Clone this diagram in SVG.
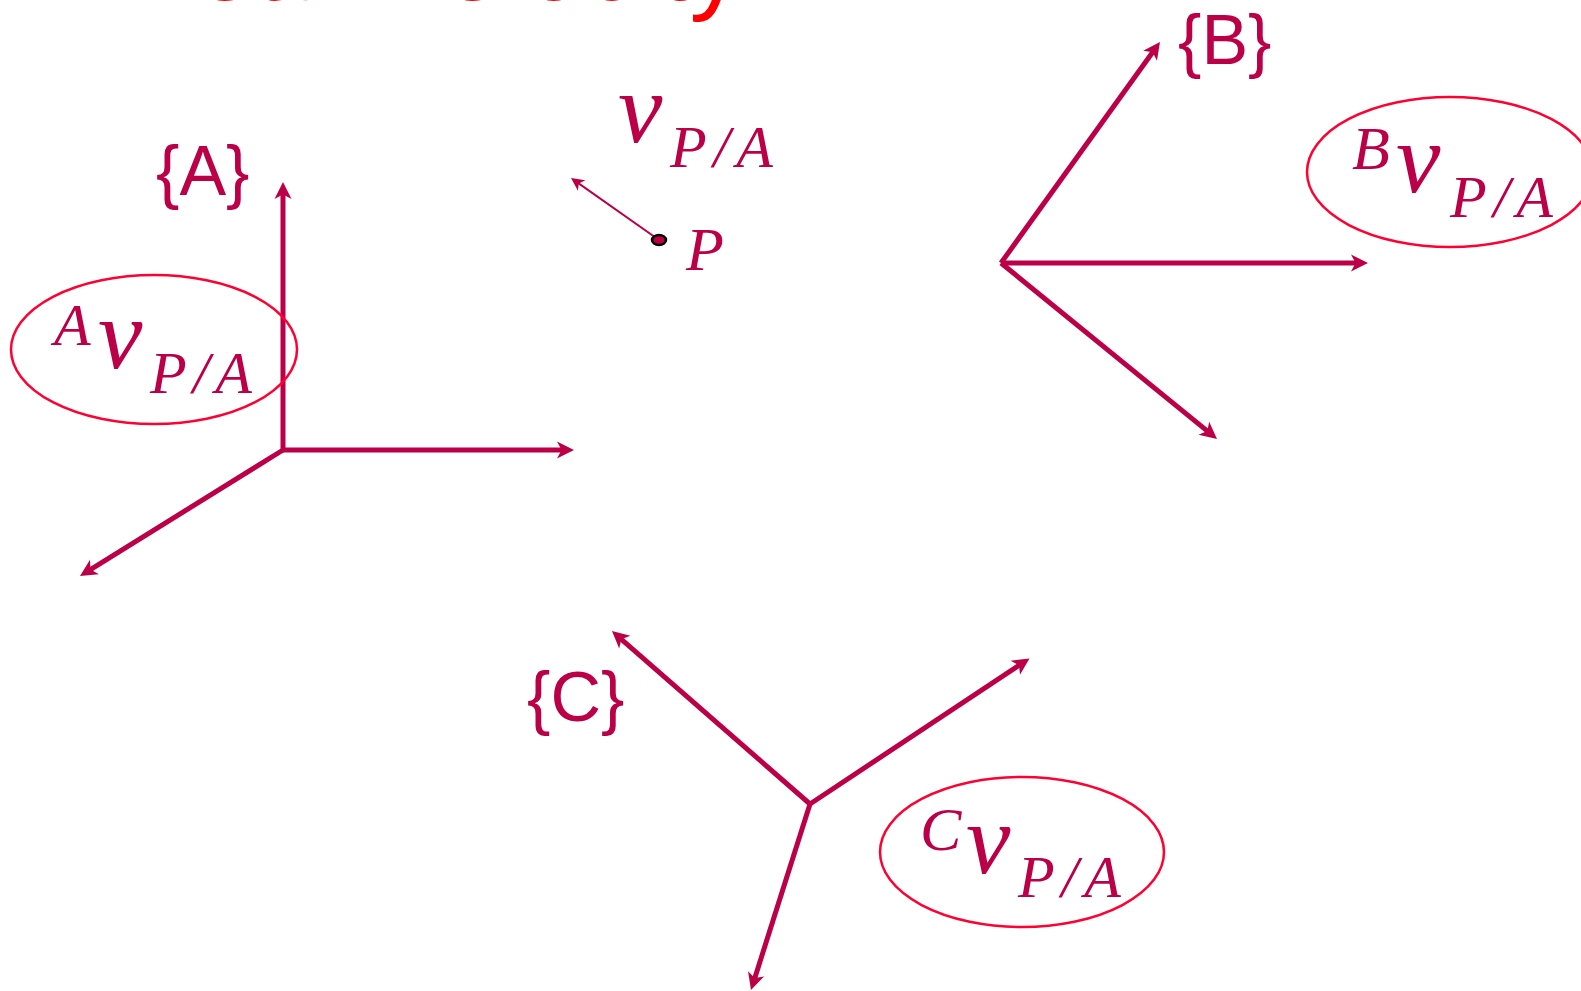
<svg xmlns="http://www.w3.org/2000/svg" width="1581" height="991" viewBox="0 0 1581 991">
<style>
.ax{stroke:#BB0048;stroke-width:5;fill:none;marker-end:url(#ah)}
.thin{stroke:#BB0048;stroke-width:2;fill:none;marker-end:url(#ahs)}
.ell{fill:none;stroke:#FF0033;stroke-width:2.5}
.frm{font-family:"Liberation Sans",Arial,sans-serif;font-size:70px;fill:#BB0048}
.m{font-family:"Liberation Serif","Times New Roman",serif;font-style:italic;fill:#BB0048}
.title{font-family:"Liberation Sans",Arial,sans-serif;font-size:106px;fill:#FF0000}
</style>
<defs>
<marker id="ah" markerUnits="userSpaceOnUse" markerWidth="20" markerHeight="20" viewBox="-10 -10 20 20" refX="0" refY="0" orient="auto" overflow="visible">
<path d="M8,0 L-9,-8.5 L-4.5,0 L-9,8.5 Z" fill="#BB0048"/>
</marker>
<marker id="ahs" markerUnits="userSpaceOnUse" markerWidth="16" markerHeight="16" viewBox="-8 -8 16 16" refX="0" refY="0" orient="auto" overflow="visible">
<path d="M5,0 L-8,-6.5 L-4.5,0 L-8,6.5 Z" fill="#BB0048"/>
</marker>
</defs>
<rect width="1581" height="991" fill="#FFFFFF"/>
<g id="title"><text class="title" x="53" y="-0.3">Linear Velocity</text></g>
<g id="connectors">
<line class="ax" x1="283" y1="452" x2="283" y2="190"/>
<line class="ax" x1="281" y1="450" x2="566" y2="450"/>
<line class="ax" x1="283" y1="450" x2="86.8" y2="571.8"/>
<line class="ax" x1="1001" y1="263" x2="1155.3" y2="48.5"/>
<line class="ax" x1="1001" y1="263" x2="1360" y2="263"/>
<line class="ax" x1="1001" y1="263" x2="1210.8" y2="433.9"/>
<line class="ax" x1="810" y1="804" x2="618" y2="636.3"/>
<line class="ax" x1="810" y1="804" x2="1022.8" y2="662.8"/>
<line class="ax" x1="810" y1="804" x2="753.4" y2="982.4"/>
<line class="thin" x1="659" y1="240" x2="575.1" y2="180.9"/>
</g>
<g id="frameA"><text class="frm" x="156" y="195">{A}</text></g>
<g id="frameB"><text class="frm" x="1178" y="64">{B}</text></g>
<g id="frameC"><text class="frm" x="527" y="721">{C}</text></g>
<g id="pointP">
<ellipse cx="659" cy="240" rx="7" ry="5" fill="#BB0048" stroke="#000000" stroke-width="2.5"/>
<text class="m" x="686" y="270" font-size="62">P</text>
</g>
<g id="velocity">
<text class="m" x="618" y="142" font-size="100">v</text>
<text class="m" x="670" y="167" font-size="60" textLength="103" lengthAdjust="spacing">P/A</text>
</g>
<g id="velA">
<ellipse class="ell" cx="154" cy="349.5" rx="143" ry="74.5"/>
<text class="m" x="54" y="345" font-size="60">A</text>
<text class="m" x="98" y="368" font-size="100">v</text>
<text class="m" x="150" y="393" font-size="60" textLength="102" lengthAdjust="spacing">P/A</text>
</g>
<g id="velB">
<ellipse class="ell" cx="1450" cy="172" rx="143" ry="75"/>
<text class="m" x="1352" y="169" font-size="62">B</text>
<text class="m" x="1396" y="192" font-size="100">v</text>
<text class="m" x="1450" y="217" font-size="60" textLength="103" lengthAdjust="spacing">P/A</text>
</g>
<g id="velC">
<ellipse class="ell" cx="1022" cy="852" rx="142" ry="75"/>
<text class="m" x="920" y="850" font-size="62">C</text>
<text class="m" x="966" y="873" font-size="100">v</text>
<text class="m" x="1018" y="897" font-size="60" textLength="103" lengthAdjust="spacing">P/A</text>
</g>
</svg>
